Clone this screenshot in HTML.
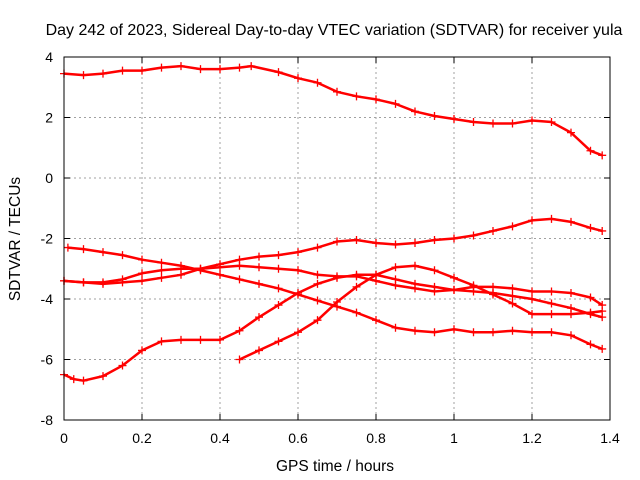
<!DOCTYPE html>
<html><head><meta charset="utf-8"><style>
body{margin:0;background:#fff}
svg{display:block;font-family:"Liberation Sans",sans-serif}
</style></head><body>
<svg id="chart" width="640" height="480">
<rect width="640" height="480" fill="#fff"/>
<text x="334" y="35" font-size="16" text-anchor="middle">Day 242 of 2023, Sidereal Day-to-day VTEC variation (SDTVAR) for receiver yula</text>
<text x="335" y="471" font-size="15.5" text-anchor="middle">GPS time / hours</text>
<text x="20" y="239" font-size="15.5" text-anchor="middle" transform="rotate(-90 20 239)">SDTVAR / TECUs</text>
<g id="grid"></g><g id="ticks"></g><g id="series"></g>
<rect x="64" y="57" width="546" height="363" fill="none" stroke="#000" stroke-width="1"/>
</svg>
<script>
const xTicks=[0,0.2,0.4,0.6,0.8,1,1.2,1.4];
const xTickLabels=["0","0.2","0.4","0.6","0.8","1","1.2","1.4"];
const yTicks=[-8,-6,-4,-2,0,2,4];
const yTickLabels=["-8","-6","-4","-2","0","2","4"];
const sAx=[0,0.05,0.1,0.15,0.2,0.25,0.3,0.35,0.4,0.45,0.48,0.55,0.6,0.65,0.7,0.75,0.8,0.85,0.9,0.95,1.0,1.05,1.1,1.15,1.2,1.25,1.3,1.35,1.38];
const sAy=[3.45,3.4,3.45,3.55,3.55,3.65,3.7,3.6,3.6,3.65,3.7,3.5,3.3,3.15,2.85,2.7,2.6,2.45,2.2,2.05,1.95,1.85,1.8,1.8,1.9,1.85,1.5,0.9,0.75];
const sBx=[0,0.025,0.05,0.1,0.15,0.2,0.25,0.3,0.35,0.4,0.45,0.5,0.55,0.6,0.65,0.7,0.75,0.8,0.85,0.9,0.95,1.0,1.05,1.1,1.15,1.2,1.25,1.3,1.35,1.38];
const sBy=[-6.5,-6.65,-6.7,-6.55,-6.2,-5.7,-5.4,-5.35,-5.35,-5.35,-5.05,-4.6,-4.2,-3.8,-3.5,-3.3,-3.2,-3.2,-3.35,-3.5,-3.6,-3.7,-3.75,-3.8,-3.9,-4.0,-4.15,-4.3,-4.5,-4.6];
const sCx=[0.01,0.05,0.1,0.15,0.2,0.25,0.3,0.35,0.4,0.45,0.5,0.55,0.6,0.65,0.7,0.75,0.8,0.85,0.9,0.95,1.0,1.05,1.1,1.15,1.2,1.25,1.3,1.35,1.38];
const sCy=[-2.3,-2.35,-2.45,-2.55,-2.7,-2.8,-2.9,-3.05,-3.2,-3.35,-3.5,-3.65,-3.85,-4.05,-4.25,-4.45,-4.7,-4.95,-5.05,-5.1,-5.0,-5.1,-5.1,-5.05,-5.1,-5.1,-5.2,-5.5,-5.65];
const sDx=[0,0.05,0.1,0.15,0.2,0.25,0.3,0.35,0.4,0.45,0.5,0.55,0.6,0.65,0.7,0.75,0.8,0.85,0.9,0.95,1.0,1.05,1.1,1.15,1.2,1.25,1.3,1.35,1.38];
const sDy=[-3.4,-3.45,-3.5,-3.45,-3.4,-3.3,-3.2,-3.0,-2.85,-2.7,-2.6,-2.55,-2.45,-2.3,-2.1,-2.05,-2.15,-2.2,-2.15,-2.05,-2.0,-1.9,-1.75,-1.6,-1.4,-1.35,-1.45,-1.65,-1.75];
const sEx=[0,0.05,0.1,0.15,0.2,0.25,0.3,0.35,0.4,0.45,0.5,0.55,0.6,0.65,0.7,0.75,0.8,0.85,0.9,0.95,1.0,1.05,1.1,1.15,1.2,1.25,1.3,1.35,1.38];
const sEy=[-3.4,-3.45,-3.45,-3.35,-3.15,-3.05,-3.0,-3.0,-2.95,-2.9,-2.95,-3.0,-3.05,-3.2,-3.25,-3.25,-3.4,-3.55,-3.65,-3.75,-3.7,-3.6,-3.6,-3.65,-3.75,-3.75,-3.8,-3.95,-4.2];
const sFx=[0.45,0.5,0.55,0.6,0.65,0.7,0.75,0.8,0.85,0.9,0.95,1.0,1.05,1.1,1.15,1.2,1.25,1.3,1.35,1.38];
const sFy=[-6.0,-5.7,-5.4,-5.1,-4.7,-4.1,-3.6,-3.2,-2.95,-2.9,-3.05,-3.3,-3.55,-3.85,-4.15,-4.5,-4.5,-4.5,-4.45,-4.4];
const NS='http://www.w3.org/2000/svg';
const X=v=>64+v*390, Y=v=>178-v*30.25;
function mk(t,a,p){const e=document.createElementNS(NS,t);for(const k in a)e.setAttribute(k,a[k]);p.appendChild(e);return e;}
const grid=document.getElementById('grid'),ticks=document.getElementById('ticks'),ser=document.getElementById('series');
xTicks.forEach((v,i)=>{
 if(i>0&&i<xTicks.length-1){const g=mk('line',{x1:X(v),x2:X(v),y1:57,y2:420,stroke:'#a0a0a0','stroke-dasharray':'2,3'},grid);
 
 }
 mk('line',{x1:X(v),x2:X(v),y1:420,y2:414,stroke:'#000'},ticks);mk('line',{x1:X(v),x2:X(v),y1:57,y2:63,stroke:'#000'},ticks);
 const t=mk('text',{x:X(v),y:443,'font-size':14,'text-anchor':'middle'},ticks);t.textContent=xTickLabels[i];
 
 
});
yTicks.forEach((v,i)=>{
 if(i>0&&i<yTicks.length-1){const g=mk('line',{x1:64,x2:610,y1:Y(v),y2:Y(v),stroke:'#a0a0a0','stroke-dasharray':'2,3'},grid);
 
 }
 mk('line',{x1:64,x2:70,y1:Y(v),y2:Y(v),stroke:'#000'},ticks);mk('line',{x1:604,x2:610,y1:Y(v),y2:Y(v),stroke:'#000'},ticks);
 const t=mk('text',{x:53,y:Y(v)+5,'font-size':14,'text-anchor':'end'},ticks);t.textContent=yTickLabels[i];
 
 
});
const all=[[sAx,sAy],[sBx,sBy],[sCx,sCy],[sDx,sDy],[sEx,sEy],[sFx,sFy]];
all.forEach((s,si)=>{
 const g=mk('g',{},ser);
 
 
 const pts=s[0].map((x,i)=>X(x)+','+Y(s[1][i])).join(' ');
 mk('polyline',{points:pts,fill:'none',stroke:'#f00','stroke-width':2.5,'stroke-linejoin':'round'},g);
 let d='';
 s[0].forEach((x,i)=>{const px=X(x),py=Y(s[1][i]);d+=`M${px-4},${py}h8M${px},${py-4}v8`;});
 mk('path',{d:d,stroke:'#f00','stroke-width':1.3,fill:'none'},g);
});
</script>
</body></html>
